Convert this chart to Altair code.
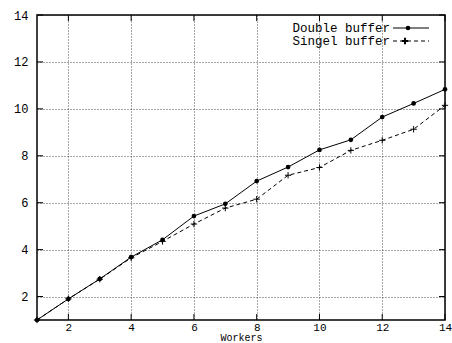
import altair as alt
import pandas as pd

workers = [1, 2, 3, 4, 5, 6, 7, 8, 9, 10, 11, 12, 13, 14]
double_buffer = [1.0, 1.9, 2.75, 3.68, 4.42, 5.43, 5.95, 6.92, 7.52, 8.25, 8.68, 9.65, 10.23, 10.83]
singel_buffer = [1.0, 1.9, 2.74, 3.65, 4.35, 5.09, 5.77, 6.15, 7.17, 7.5, 8.23, 8.66, 9.13, 10.15]
series_names = ["Double buffer", "Singel buffer"]
x_ticks = [2, 4, 6, 8, 10, 12, 14]
y_ticks = [2, 4, 6, 8, 10, 12, 14]

FONT = "Liberation Mono"
W, H = 408, 305

df = pd.DataFrame({
    "Workers": workers * 2,
    "Speedup": double_buffer + singel_buffer,
    "Series": [series_names[0]] * len(workers) + [series_names[1]] * len(workers),
})

xs = alt.Scale(domain=[1, 14], nice=False, zero=False)
ys = alt.Scale(domain=[1, 14], nice=False, zero=False)

xax = alt.Axis(values=x_ticks, title="Workers", grid=True, gridDash=[1, 2], gridColor="#222",
               gridWidth=0.8, tickSize=0, labelPadding=1, labelFont=FONT, labelFontSize=11,
               labelColor="black", titleFont=FONT, titleFontSize=10, titleFontWeight="normal",
               titleColor="black", titlePadding=0, domain=False, labelFlush=False)
yax = alt.Axis(values=y_ticks, title=None, grid=True, gridDash=[1, 2], gridColor="#222",
               gridWidth=0.8, tickSize=0, labelPadding=9, labelFont=FONT, labelFontSize=12,
               labelColor="black", domain=False, labelFlush=False)

base = alt.Chart(df)

dbl = base.transform_filter(alt.datum.Series == series_names[0])
sgl = base.transform_filter(alt.datum.Series == series_names[1])

dbl_line = dbl.mark_line(color="black", strokeWidth=1).encode(
    x=alt.X("Workers:Q", scale=xs, axis=xax),
    y=alt.Y("Speedup:Q", scale=ys, axis=yax),
)
dbl_pts = dbl.mark_point(filled=True, color="black", size=22, shape="circle", opacity=1).encode(
    x=alt.X("Workers:Q", scale=xs), y=alt.Y("Speedup:Q", scale=ys))

plus = "M-1,0L1,0M0,-1L0,1"
sgl_line = sgl.mark_line(color="black", strokeWidth=1, strokeDash=[4, 3]).encode(
    x=alt.X("Workers:Q", scale=xs), y=alt.Y("Speedup:Q", scale=ys))
sgl_pts = sgl.mark_point(filled=False, color="black", size=40, shape=plus, strokeWidth=1, opacity=1).encode(
    x=alt.X("Workers:Q", scale=xs), y=alt.Y("Speedup:Q", scale=ys))

# inward tick marks (gnuplot style) on all four borders
xt = alt.Chart(pd.DataFrame({"t": x_ticks}))
yt = alt.Chart(pd.DataFrame({"t": y_ticks}))
ticks = [
    xt.mark_rule(color="black", strokeWidth=1).encode(x=alt.X("t:Q", scale=xs), y=alt.value(H), y2=alt.value(H - 6)),
    xt.mark_rule(color="black", strokeWidth=1).encode(x=alt.X("t:Q", scale=xs), y=alt.value(0), y2=alt.value(6)),
    yt.mark_rule(color="black", strokeWidth=1).encode(y=alt.Y("t:Q", scale=ys), x=alt.value(0), x2=alt.value(6)),
    yt.mark_rule(color="black", strokeWidth=1).encode(y=alt.Y("t:Q", scale=ys), x=alt.value(W), x2=alt.value(W - 6)),
]

# legend (top right, label then sample)
one = alt.Data(values=[{}])
leg = []
for i, name in enumerate(series_names):
    yy = 13 + i * 13
    leg.append(alt.Chart(one).mark_text(text=name, font=FONT, fontSize=12.5, align="right",
                                        baseline="middle", color="black").encode(
        x=alt.value(353), y=alt.value(yy)))
    leg.append(alt.Chart(one).mark_rule(color="black", strokeWidth=1,
                                        strokeDash=[1, 0] if i == 0 else [4, 3]).encode(
        x=alt.value(356), x2=alt.value(392), y=alt.value(yy)))
    if i == 0:
        leg.append(alt.Chart(one).mark_point(filled=True, color="black", size=22, shape="circle", opacity=1).encode(
            x=alt.value(371), y=alt.value(yy)))
    else:
        leg.append(alt.Chart(one).mark_point(filled=False, color="black", size=40, shape=plus, opacity=1).encode(
            x=alt.value(368), y=alt.value(yy)))

chart = alt.layer(dbl_line, sgl_line, dbl_pts, sgl_pts, *ticks, *leg).properties(
    width=W, height=H,
    autosize=alt.AutoSizeParams(type="none"),
    padding={"left": 37, "top": 15, "right": 7, "bottom": 23},
    background="white",
).configure_view(stroke="black", strokeWidth=1.5)

chart.save("out.html", embed_options={"renderer": "svg", "actions": False})
